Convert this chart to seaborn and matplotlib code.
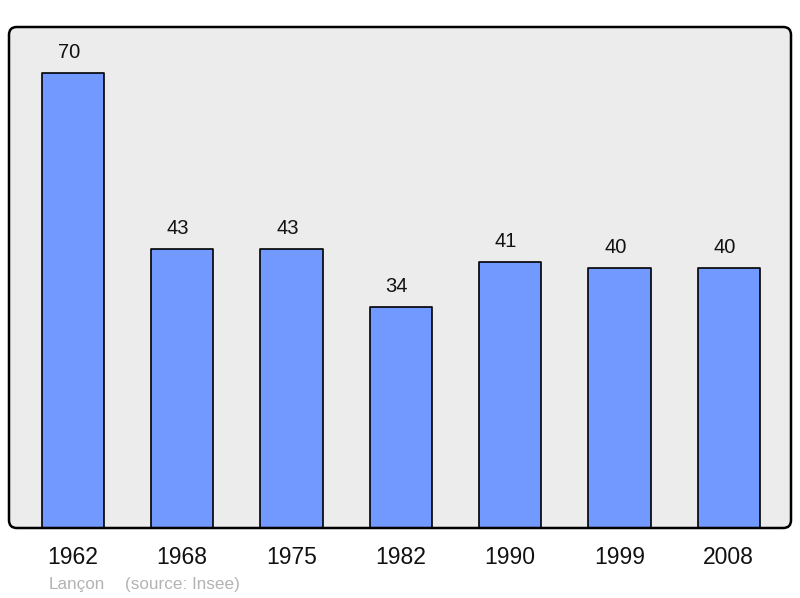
import matplotlib
matplotlib.use("Agg")
import matplotlib.pyplot as plt
from matplotlib.patches import FancyBboxPatch
import seaborn as sns

# data
years = ["1962", "1968", "1975", "1982", "1990", "1999", "2008"]
population = [70, 43, 43, 34, 41, 40, 40]
commune = "Lançon"
source = "(source: Insee)"

sns.set_style("white")
plt.rcParams["font.family"] = ["Liberation Sans", "DejaVu Sans"]

fig = plt.figure(figsize=(8, 5.98), dpi=100)
ax = fig.add_axes([9 / 800, 70 / 598, 782 / 800, 501 / 598])
ax.set_facecolor("none")

sns.barplot(x=years, y=population, color="#7299ff", saturation=1,
            edgecolor="black", linewidth=1.2, width=0.57, ax=ax, zorder=2)
for p in ax.patches:
    p.set_joinstyle("round")

ax.set_xlim(-0.585, 6.57)
ax.set_ylim(0, 77.1)

# value labels above the bars (slightly left of centre, as in the original)
for i, v in enumerate(population):
    ax.annotate(str(v), (i, v), xytext=(-3, 14.5), textcoords="offset points",
                ha="center", va="center", fontsize=14.5, color="#111111")

# rounded frame with grey background
frame = FancyBboxPatch((0, 0), 1, 1, boxstyle="round,pad=0,rounding_size=0.01",
                       mutation_aspect=1.56, transform=ax.transAxes,
                       facecolor="#ececec", edgecolor="none",
                       zorder=0, clip_on=False)
ax.add_patch(frame)
border = FancyBboxPatch((0, 0), 1, 1, boxstyle="round,pad=0,rounding_size=0.01",
                        mutation_aspect=1.56, transform=ax.transAxes,
                        facecolor="none", edgecolor="black", linewidth=1.8,
                        zorder=5, clip_on=False)
ax.add_patch(border)

for s in ax.spines.values():
    s.set_visible(False)
ax.set_yticks([])
ax.tick_params(axis="x", length=0, pad=13, labelsize=16.5, labelcolor="#111111")
ax.set_xlabel("")
ax.set_ylabel("")

fig.text(49 / 800, 1 - 584 / 598, commune, fontsize=12.3, color="#b3b3b3",
         ha="left", va="center")
fig.text(125 / 800, 1 - 584 / 598, source, fontsize=12.3, color="#b3b3b3",
         ha="left", va="center")

fig.savefig("out.png", dpi=100)
